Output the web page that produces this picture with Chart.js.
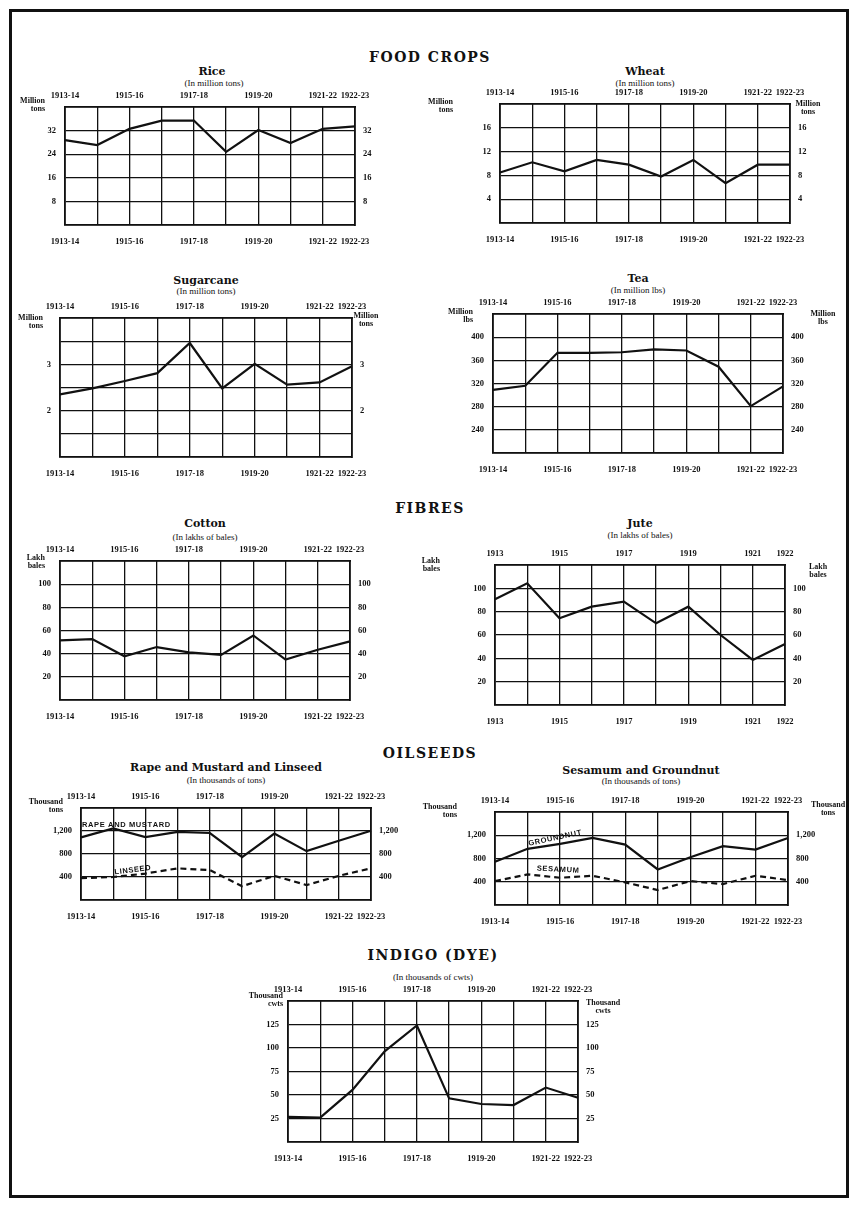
<!DOCTYPE html>
<html>
<head>
<meta charset="utf-8">
<script src="https://cdn.jsdelivr.net/npm/chart.js@4.4.1/dist/chart.umd.min.js"></script>
<style>
body { margin: 0; background: #fff; }
#page { position: relative; width: 859px; height: 1210px; background: #fff; overflow: hidden; }
.frame { position: absolute; left: 9px; top: 9px; width: 834px; height: 1183px; border: 3px solid #111; }
.t { position: absolute; transform: translate(-50%, -50%); white-space: nowrap; color: #111;
     font-family: "DejaVu Serif", serif; font-weight: bold; -webkit-font-smoothing: antialiased; }
.sec { font-size: 14px; letter-spacing: 1.5px; }
.ttl { font-size: 11px; }
.sub { font-family: "Liberation Serif", serif; font-weight: normal; font-size: 9px; }
.cw { position: absolute; }
</style>
</head>
<body>
<div id="page"><div class="frame"></div></div>
<script>
// years on the x axis
var years = ['1913-14', '1914-15', '1915-16', '1916-17', '1917-18', '1918-19', '1919-20', '1920-21', '1921-22', '1922-23'];
var juteYears = ['1913', '1914', '1915', '1916', '1917', '1918', '1919', '1920', '1921', '1922'];
var shownYearIdx = [0, 2, 4, 6, 8, 9];

// values
var rice = [28.8, 27.1, 32.6, 35.4, 35.4, 24.8, 32.2, 27.8, 32.6, 33.4];
var wheat = [8.5, 10.2, 8.7, 10.6, 9.8, 7.8, 10.6, 6.7, 9.8, 9.8];
var sugarcane = [2.35, 2.48, 2.64, 2.81, 3.46, 2.48, 3.01, 2.56, 2.61, 2.96];
var tea = [309, 316, 373, 373, 374, 379, 377, 349, 281, 315];
var cotton = [51.4, 52.6, 37.7, 45.7, 41.1, 38.9, 55.7, 34.9, 43.4, 50.6];
var jute = [90.6, 104.3, 74.3, 84.3, 88.6, 70, 84.3, 60, 38.6, 52.3];
var rapeMustard = [1090, 1245, 1095, 1185, 1165, 745, 1155, 850, 1030, 1205];
var linseed = [380, 400, 460, 550, 520, 240, 420, 260, 420, 550];
var groundnut = [743, 966, 1051, 1154, 1040, 611, 823, 1011, 954, 1154];
var sesamum = [411, 526, 469, 503, 389, 257, 411, 360, 503, 429];
var indigo = [26.8, 25.9, 55.4, 96.4, 124, 46.4, 40.4, 39.3, 57.9, 47.1];

// labelled y ticks
var riceTicks = [8, 16, 24, 32];
var wheatTicks = [4, 8, 12, 16];
var sugarcaneTicks = [2, 3];
var teaTicks = [240, 280, 320, 360, 400];
var baleTicks = [20, 40, 60, 80, 100];
var oilTicks = [400, 800, 1200];
var indigoTicks = [25, 50, 75, 100, 125];

var L = 95, R = 95, T = 22, B = 26;
var page = document.getElementById('page');
var tickFont = { family: '"Liberation Serif", serif', weight: 'bold', size: 8.5 };

function addText(txt, cls, x, y) {
	var d = document.createElement('div');
	d.className = 't ' + cls;
	d.style.left = x + 'px';
	d.style.top = y + 'px';
	d.textContent = txt;
	page.appendChild(d);
}

// unit labels at the corners and the words written along the lines
var extraText = {
	id: 'extraText',
	afterDraw: function(chart, args, o) {
		var ctx = chart.ctx, a = chart.chartArea;
		ctx.save();
		ctx.fillStyle = '#111';
		ctx.textBaseline = 'middle';
		ctx.font = 'bold 8px "Liberation Serif", serif';
		if (o.unitL) {
			ctx.textAlign = 'right';
			for (var i = 0; i < o.unitL.length; i++)
				ctx.fillText(o.unitL[i], a.left - o.dxL, a.top + o.dyL + i * 8);
		}
		if (o.unitR) {
			ctx.textAlign = 'center';
			for (var j = 0; j < o.unitR.length; j++)
				ctx.fillText(o.unitR[j], a.right + o.dxR, a.top + o.dyR + j * 8);
		}
		if (o.notes) {
			ctx.font = 'bold 7.5px "Liberation Sans", sans-serif';
			ctx.textAlign = 'center';
			o.notes.forEach(function(n) {
				var x = chart.scales.x.getPixelForValue(n.x);
				var y = chart.scales.y.getPixelForValue(n.y);
				ctx.save();
				ctx.translate(x, y);
				ctx.rotate(n.rot * Math.PI / 180);
				ctx.fillText(n.text.split('').join(String.fromCharCode(8202)), 0, 0);
				ctx.restore();
			});
		}
		ctx.restore();
	}
};

function drawChart(box, labels, sets, yMin, yMax, yStep, yShown, extra) {
	var wrap = document.createElement('div');
	wrap.className = 'cw';
	var w = box.w + L + R, h = box.h + T + B;
	wrap.style.left = (box.left - L) + 'px';
	wrap.style.top = (box.top - T) + 'px';
	wrap.style.width = w + 'px';
	wrap.style.height = h + 'px';
	var cv = document.createElement('canvas');
	cv.style.width = w + 'px';
	cv.style.height = h + 'px';
	wrap.appendChild(cv);
	page.appendChild(wrap);

	var xTick = function(v, i) { return shownYearIdx.indexOf(i) >= 0 ? labels[i] : ''; };
	var yTick = function(v) { return yShown.indexOf(v) >= 0 ? v.toLocaleString('en-US') : ''; };
	var gridLine = { color: '#111', lineWidth: 1.3, drawTicks: false };
	var edge = { color: '#111', width: 1.8 };

	var datasets = sets.map(function(s) {
		return {
			data: s.data,
			borderColor: '#111',
			borderWidth: 2.2,
			borderDash: s.dash ? [6, 4] : [],
			pointRadius: 0,
			tension: 0,
			fill: false
		};
	});

	new Chart(cv, {
		type: 'line',
		data: { labels: labels, datasets: datasets },
		options: {
			responsive: false,
			animation: false,
			layout: { padding: 0 },
			plugins: { legend: { display: false }, tooltip: { enabled: false }, extraText: extra },
			scales: {
				x: {
					position: 'bottom', offset: false, grid: gridLine, border: edge,
					ticks: { autoSkip: false, maxRotation: 0, padding: 12, color: '#111', font: tickFont, callback: xTick },
					afterFit: function(s) { s.height = B; }
				},
				xTop: {
					type: 'category', position: 'top', offset: false, grid: { display: false, drawTicks: false }, border: edge,
					ticks: { autoSkip: false, maxRotation: 0, padding: 6, color: '#111', font: tickFont, callback: xTick },
					afterFit: function(s) { s.height = T; }
				},
				y: {
					position: 'left', min: yMin, max: yMax, grid: gridLine, border: edge,
					ticks: { stepSize: yStep, autoSkip: false, padding: 9, color: '#111', font: tickFont, callback: yTick },
					afterFit: function(s) { s.width = L; }
				},
				y2: {
					position: 'right', min: yMin, max: yMax, grid: { display: false, drawTicks: false }, border: edge,
					ticks: { stepSize: yStep, autoSkip: false, padding: 8, color: '#111', font: tickFont, callback: yTick },
					afterFit: function(s) { s.width = R; }
				}
			}
		},
		plugins: [extraText]
	});
}

var mt = ['Million', 'tons'];
var lb = ['Lakh', 'bales'];
var tt = ['Thousand', 'tons'];

// headers
addText('FOOD CROPS', 'sec', 430, 57);
addText('FIBRES', 'sec', 430, 508);
addText('OILSEEDS', 'sec', 430, 753);
addText('INDIGO (DYE)', 'sec', 433, 955);
addText('(In thousands of cwts)', 'sub', 433, 977);

addText('Rice', 'ttl', 212, 71);
addText('(In million tons)', 'sub', 214, 83);
drawChart({ left: 65, top: 107, w: 290, h: 118 }, years, [{ data: rice }], 0, 40, 8, riceTicks,
	{ unitL: mt, dxL: 20, dyL: -6 });

addText('Wheat', 'ttl', 645, 71);
addText('(In million tons)', 'sub', 645, 83);
drawChart({ left: 500, top: 104, w: 290, h: 119 }, years, [{ data: wheat }], 0, 20, 4, wheatTicks,
	{ unitL: mt, dxL: 47, dyL: -2, unitR: mt, dxR: 18, dyR: 0 });

addText('Sugarcane', 'ttl', 206, 280);
addText('(In million tons)', 'sub', 206, 291);
drawChart({ left: 60, top: 318, w: 292, h: 139 }, years, [{ data: sugarcane }], 1, 4, 0.5, sugarcaneTicks,
	{ unitL: mt, dxL: 17, dyL: 0, unitR: mt, dxR: 14, dyR: -2 });

addText('Tea', 'ttl', 638, 278);
addText('(In million lbs)', 'sub', 638, 290);
drawChart({ left: 493, top: 314, w: 290, h: 139 }, years, [{ data: tea }], 200, 440, 40, teaTicks,
	{ unitL: ['Million', 'lbs'], dxL: 20, dyL: -2, unitR: ['Million', 'lbs'], dxR: 40, dyR: 0 });

addText('Cotton', 'ttl', 205, 523);
addText('(In lakhs of bales)', 'sub', 205, 537);
drawChart({ left: 60, top: 561, w: 290, h: 139 }, years, [{ data: cotton }], 0, 120, 20, baleTicks,
	{ unitL: lb, dxL: 15, dyL: -3 });

addText('Jute', 'ttl', 640, 523);
addText('(In lakhs of bales)', 'sub', 640, 535);
drawChart({ left: 495, top: 565, w: 290, h: 140 }, juteYears, [{ data: jute }], 0, 120, 20, baleTicks,
	{ unitL: lb, dxL: 55, dyL: -4, unitR: lb, dxR: 33, dyR: 2 });

addText('Rape and Mustard and Linseed', 'ttl', 226, 767);
addText('(In thousands of tons)', 'sub', 226, 780);
drawChart({ left: 81, top: 808, w: 290, h: 92 }, years, [{ data: rapeMustard }, { data: linseed, dash: true }], 0, 1600, 400, oilTicks,
	{ unitL: tt, dxL: 18, dyL: -6,
	  notes: [{ text: 'RAPE AND MUSTARD', x: 1.4, y: 1300, rot: 0 }, { text: 'LINSEED', x: 1.6, y: 520, rot: -7 }] });

addText('Sesamum and Groundnut', 'ttl', 641, 770);
addText('(In thousands of tons)', 'sub', 641, 781);
drawChart({ left: 495, top: 812, w: 293, h: 93 }, years, [{ data: groundnut }, { data: sesamum, dash: true }], 0, 1600, 400, oilTicks,
	{ unitL: tt, dxL: 38, dyL: -5, unitR: tt, dxR: 40, dyR: -7,
	  notes: [{ text: 'GROUNDNUT', x: 1.84, y: 1150, rot: -12 }, { text: 'SESAMUM', x: 1.93, y: 610, rot: 3 }] });

drawChart({ left: 288, top: 1001, w: 290, h: 141 }, years, [{ data: indigo }], 0, 150, 25, indigoTicks,
	{ unitL: ['Thousand', 'cwts'], dxL: 5, dyL: -5, unitR: ['Thousand', 'cwts'], dxR: 25, dyR: 2 });
</script>
</body>
</html>
